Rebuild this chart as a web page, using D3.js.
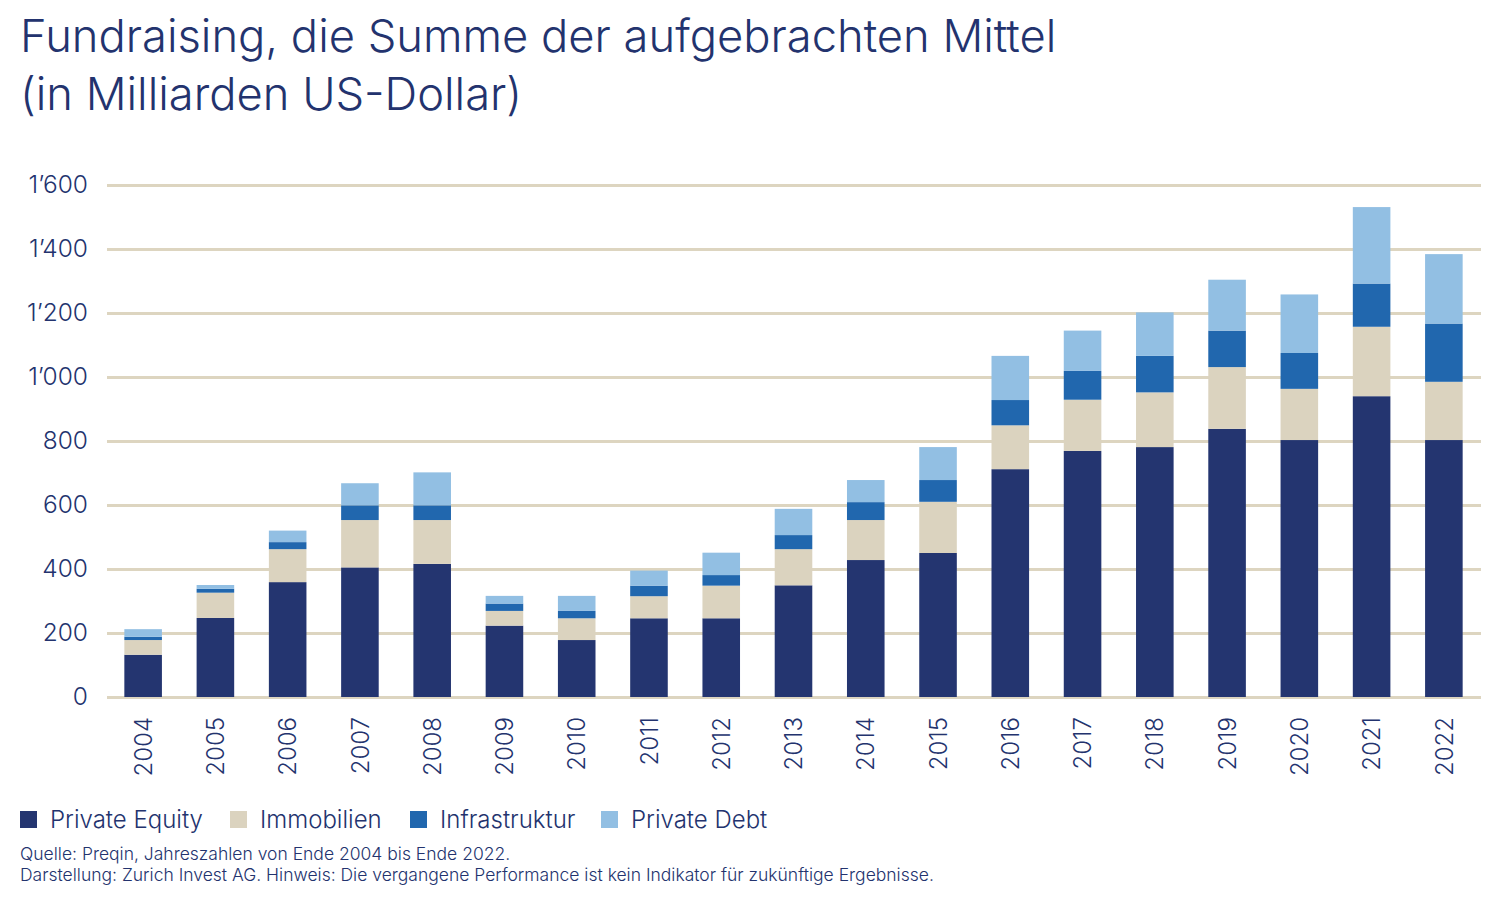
<!DOCTYPE html>
<html>
<head>
<meta charset="utf-8">
<script src="https://cdn.jsdelivr.net/npm/d3@7"></script>
<style>
  body { margin: 0; background: #fff; }
  svg { font-family: Inter, "Noto Sans", sans-serif; }
</style>
</head>
<body>
<svg id="chart" width="1500" height="900"></svg>
<script>
// values, in billions USD
const years = ["2004","2005","2006","2007","2008","2009","2010","2011","2012","2013",
               "2014","2015","2016","2017","2018","2019","2020","2021","2022"];
const privateEquity = [132,247,359,405,416,223,178,246,246,349,428,450,712,769,781,838,803,940,803];
const immobilien    = [46,79,103,148,137,46,68,69,102,113,125,160,137,160,171,193,160,217,182];
const infrastruktur = [10,12,22,46,46,23,23,33,33,44,56,68,79,90,114,114,112,135,182];
const privateDebt   = [24,12,36,69,103,24,47,47,70,82,69,103,138,126,136,159,183,239,217];
const seriesNames = ["Private Equity","Immobilien","Infrastruktur","Private Debt"];
const seriesColors = ["#243570","#dbd3bf","#2167ae","#92bfe3"];
const yTicks = [0,200,400,600,800,1000,1200,1400,1600];

const textColor = "#23336e";
const gridColor = "#ddd5c0";

const svg = d3.select("#chart");

// build rows for the stack
const rows = years.map((yr, i) => ({
    year: yr,
    "Private Equity": privateEquity[i],
    "Immobilien": immobilien[i],
    "Infrastruktur": infrastruktur[i],
    "Private Debt": privateDebt[i]
}));
const stacked = d3.stack().keys(seriesNames)(rows);

const x = d3.scaleBand().domain(years).range([107, 1480]).paddingInner(0.48).paddingOuter(0.24);
const y = d3.scaleLinear().domain([0, 1600]).range([697, 185]);
const color = d3.scaleOrdinal().domain(seriesNames).range(seriesColors);

// 1'600 style thousands separator
const fmt = d3.formatLocale({decimal: ".", thousands: "\u2019", grouping: [3], currency: ["", ""]}).format(",");

// title
const title = svg.append("text").attr("fill", textColor).style("font-size", "45.3px").style("font-weight", 300);
title.append("tspan").attr("x", 20).attr("y", 52).text("Fundraising, die Summe der aufgebrachten Mittel");
title.append("tspan").attr("x", 20).attr("y", 110).text("(in Milliarden US-Dollar)");

// y axis with gridlines
const yAxis = svg.append("g")
    .attr("transform", "translate(107,0)")
    .call(d3.axisLeft(y).tickValues(yTicks).tickFormat(fmt).tickSize(-(1481 - 107)).tickPadding(19));
yAxis.select(".domain").remove();
yAxis.selectAll(".tick line").attr("stroke", gridColor).attr("stroke-width", 3);
yAxis.selectAll(".tick text")
    .attr("fill", textColor)
    .style("font-size", "24.5px")
    .style("font-family", "Inter, sans-serif")
    .style("font-weight", 300);

// stacked bars
svg.append("g").selectAll("g")
    .data(stacked)
    .join("g")
    .attr("fill", d => color(d.key))
    .selectAll("rect")
    .data(d => d)
    .join("rect")
    .attr("x", d => x(d.data.year))
    .attr("width", x.bandwidth())
    .attr("y", d => y(d[1]))
    .attr("height", d => y(d[0]) - y(d[1]));

// x axis, rotated year labels
const xAxis = svg.append("g")
    .attr("transform", "translate(0,697)")
    .call(d3.axisBottom(x).tickSize(0));
xAxis.select(".domain").remove();
xAxis.selectAll(".tick text")
    .attr("transform", "rotate(-90)")
    .attr("x", -20)
    .attr("y", 0)
    .attr("dy", "0.36em")
    .style("text-anchor", "end")
    .attr("fill", textColor)
    .style("font-size", "24px")
    .style("font-family", "Inter, sans-serif")
    .style("font-weight", 300);

// legend
const legendX = [20, 230, 410, 601];
const legend = svg.append("g").selectAll("g")
    .data(seriesNames)
    .join("g")
    .attr("transform", (d, i) => `translate(${legendX[i]},811)`);
legend.append("rect").attr("width", 17).attr("height", 17).attr("fill", d => color(d));
legend.append("text")
    .attr("x", 30).attr("y", 17)
    .attr("fill", textColor)
    .style("font-size", "24px")
    .style("font-weight", 300)
    .text(d => d);

// source notes
const notes = svg.append("text").attr("fill", textColor).style("font-size", "17.5px").style("font-weight", 300);
notes.append("tspan").attr("x", 20).attr("y", 860).text("Quelle: Preqin, Jahreszahlen von Ende 2004 bis Ende 2022.");
notes.append("tspan").attr("x", 20).attr("y", 881).text("Darstellung: Zurich Invest AG. Hinweis: Die vergangene Performance ist kein Indikator für zukünftige Ergebnisse.");
</script>
</body>
</html>
